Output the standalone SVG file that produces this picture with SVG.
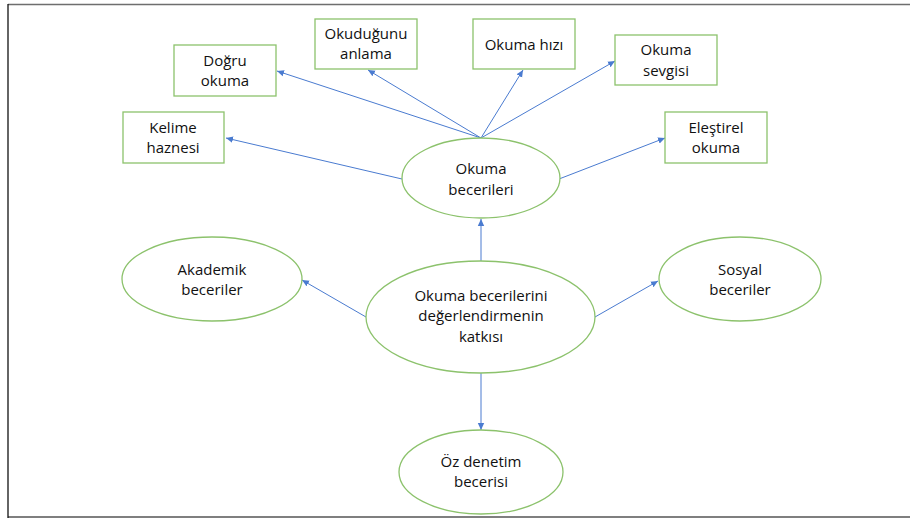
<svg xmlns="http://www.w3.org/2000/svg" width="910" height="520" viewBox="0 0 910 520">
<style>
.box{fill:#fff;stroke:#8cc26c;stroke-width:1.3}
.ell{fill:#fff;stroke:#8cc26c;stroke-width:1.3}
.t{font-family:"Open Sans","Liberation Sans",sans-serif;font-size:15px;fill:#111;text-anchor:middle}
.c{stroke:#4a7bd0;stroke-width:1;fill:none;marker-end:url(#ah)}
</style>
<defs>
<marker id="ah" markerUnits="userSpaceOnUse" markerWidth="8" markerHeight="8" refX="7" refY="4" orient="auto">
<path d="M0,0.8 L7,4 L0,7.2 Z" fill="#4a7bd0"/>
</marker>
</defs>
<rect x="0" y="0" width="910" height="520" fill="#fff"/>
<line x1="8" y1="4.5" x2="910" y2="4.5" stroke="#6e6e6e" stroke-width="1.5"/>
<line x1="8" y1="517" x2="910" y2="517" stroke="#555" stroke-width="1.5"/>
<line x1="8" y1="4" x2="8" y2="518" stroke="#111" stroke-width="1.3"/>

<g id="connectors">
<line class="c" x1="481" y1="138" x2="277" y2="71"/>
<line class="c" x1="481" y1="138" x2="368" y2="70"/>
<line class="c" x1="481" y1="138" x2="523" y2="70"/>
<line class="c" x1="481" y1="138" x2="615" y2="61"/>
<line class="c" x1="402" y1="179" x2="226" y2="138"/>
<line class="c" x1="559" y1="179" x2="665" y2="138"/>
<line class="c" x1="481" y1="261" x2="481" y2="219"/>
<line class="c" x1="366" y1="317" x2="302" y2="280"/>
<line class="c" x1="595" y1="317" x2="658" y2="281"/>
<line class="c" x1="481" y1="373" x2="481" y2="430"/>
</g>

<g id="dogru-okuma">
<rect class="box" x="174" y="45" width="102" height="51"/>
<text class="t" x="225" y="66">Doğru</text>
<text class="t" x="225" y="86">okuma</text>
</g>
<g id="okudugunu-anlama">
<rect class="box" x="315" y="19" width="102" height="50"/>
<text class="t" x="366" y="39">Okuduğunu</text>
<text class="t" x="366" y="59">anlama</text>
</g>
<g id="okuma-hizi">
<rect class="box" x="473" y="19" width="102" height="50"/>
<text class="t" x="524" y="50">Okuma hızı</text>
</g>
<g id="okuma-sevgisi">
<rect class="box" x="615" y="35" width="102" height="50"/>
<text class="t" x="666" y="55">Okuma</text>
<text class="t" x="666" y="76">sevgisi</text>
</g>
<g id="kelime-haznesi">
<rect class="box" x="123" y="112" width="101" height="51"/>
<text class="t" x="173" y="133">Kelime</text>
<text class="t" x="173" y="153">haznesi</text>
</g>
<g id="elestirel-okuma">
<rect class="box" x="665" y="112" width="102" height="51"/>
<text class="t" x="716" y="133">Eleştirel</text>
<text class="t" x="716" y="153">okuma</text>
</g>
<g id="okuma-becerileri">
<ellipse class="ell" cx="481" cy="178" rx="79" ry="40"/>
<text class="t" x="481" y="174">Okuma</text>
<text class="t" x="481" y="195">becerileri</text>
</g>
<g id="merkez">
<ellipse class="ell" cx="480.5" cy="317" rx="114.5" ry="56"/>
<text class="t" x="481" y="301">Okuma becerilerini</text>
<text class="t" x="481" y="321">değerlendirmenin</text>
<text class="t" x="481" y="342">katkısı</text>
</g>
<g id="akademik-beceriler">
<ellipse class="ell" cx="212" cy="279" rx="90" ry="42"/>
<text class="t" x="212" y="275">Akademik</text>
<text class="t" x="212" y="295">beceriler</text>
</g>
<g id="sosyal-beceriler">
<ellipse class="ell" cx="740" cy="279" rx="81" ry="42"/>
<text class="t" x="740" y="275">Sosyal</text>
<text class="t" x="740" y="295">beceriler</text>
</g>
<g id="oz-denetim">
<ellipse class="ell" cx="481" cy="472" rx="82" ry="42"/>
<text class="t" x="481" y="467">Öz denetim</text>
<text class="t" x="481" y="487">becerisi</text>
</g>
</svg>
